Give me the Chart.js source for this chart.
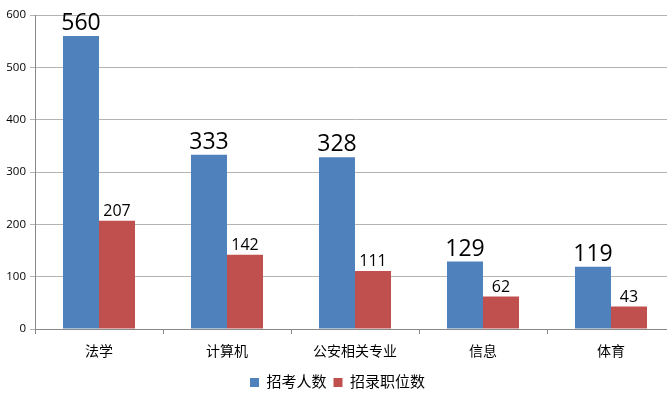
<!DOCTYPE html>
<html>
<head>
<meta charset="utf-8">
<script src="https://cdn.jsdelivr.net/npm/chart.js@4/dist/chart.umd.min.js"></script>
<style>
  html, body { margin: 0; padding: 0; background: #fff; overflow: hidden; }
  #wrap { width: 676px; height: 400px; }
</style>
</head>
<body>
<div id="wrap"><canvas id="chart"></canvas></div>
<script>
const categories = ['法学', '计算机', '公安相关专业', '信息', '体育'];
const applicants = [560, 333, 328, 129, 119];
const positions = [207, 142, 111, 62, 43];
const seriesNames = ['招考人数', '招录职位数'];
const yTicks = [0, 100, 200, 300, 400, 500, 600];

const FONT = "'Open Sans', 'Noto Sans CJK SC', sans-serif";

// values written above each bar, blue ones bigger
const barLabels = {
  id: 'barLabels',
  afterDatasetsDraw(chart) {
    const ctx = chart.ctx;
    const sizes = [23, 16];
    chart.data.datasets.forEach((ds, i) => {
      const meta = chart.getDatasetMeta(i);
      meta.data.forEach((bar, j) => {
        ctx.save();
        ctx.font = sizes[i] + 'px ' + FONT;
        ctx.fillStyle = '#000';
        ctx.textAlign = 'center';
        ctx.textBaseline = 'bottom';
        ctx.fillText(ds.data[j], bar.x, bar.y - 1);
        ctx.restore();
      });
    });
  }
};

new Chart(document.getElementById('chart'), {
  type: 'bar',
  data: {
    labels: categories,
    datasets: [
      { label: seriesNames[0], data: applicants, backgroundColor: '#4F81BD', borderWidth: 0 },
      { label: seriesNames[1], data: positions, backgroundColor: '#C0504D', borderWidth: 0 }
    ]
  },
  options: {
    responsive: true,
    maintainAspectRatio: false,
    animation: false,
    layout: { padding: { left: 0, top: 15, right: 1, bottom: 0 } },
    datasets: { bar: { categoryPercentage: 0.5625, barPercentage: 1 } },
    plugins: {
      legend: {
        position: 'bottom',
        labels: {
          boxWidth: 9, boxHeight: 9, padding: 7,
          color: '#000',
          font: { family: FONT, size: 15 }
        }
      },
      tooltip: { enabled: false }
    },
    scales: {
      x: {
        grid: { drawOnChartArea: false, drawTicks: true, tickLength: 5, color: '#888' },
        border: { color: '#888' },
        ticks: { color: '#000', padding: 10, font: { family: FONT, size: 14 } },
        afterFit(s) { s.height = 39; }
      },
      y: {
        min: 0, max: 600,
        afterBuildTicks(s) { s.ticks = yTicks.map(v => ({ value: v })); },
        grid: { color: '#b3b3b3', tickLength: 5 },
        border: { color: '#888' },
        ticks: { color: '#000', padding: 4, font: { family: FONT, size: 11.5 } },
        afterFit(s) { s.width = 35; }
      }
    }
  },
  plugins: [barLabels]
});
</script>
</body>
</html>
